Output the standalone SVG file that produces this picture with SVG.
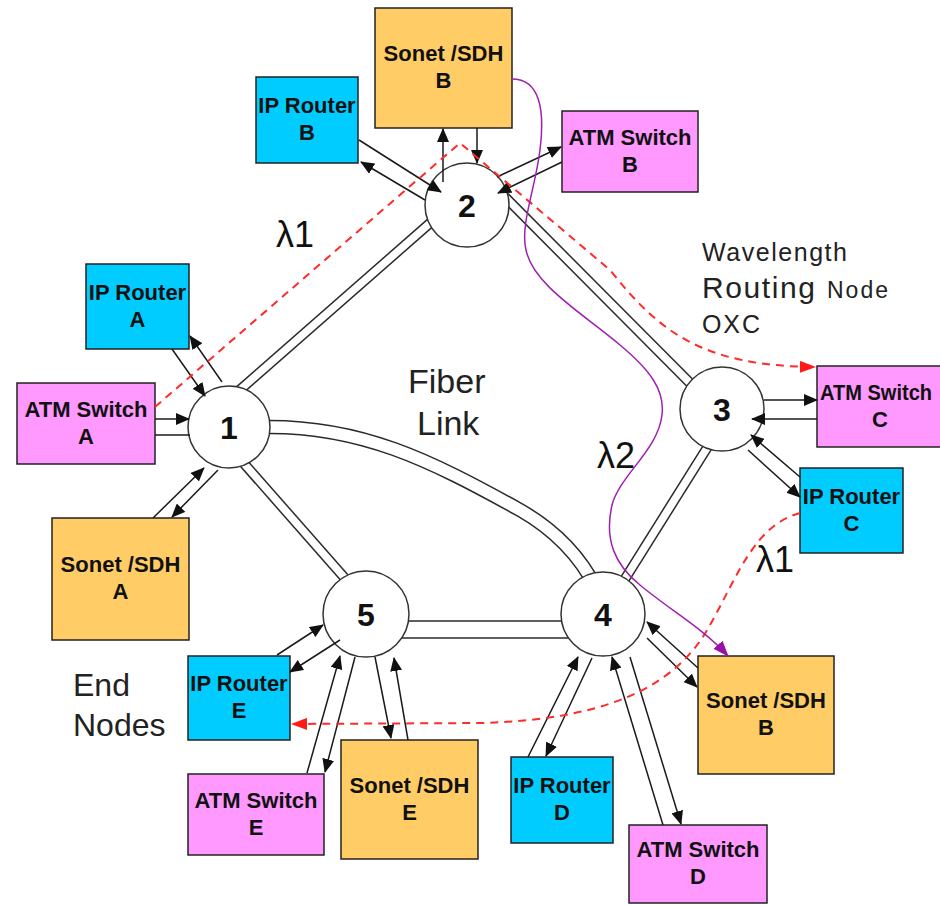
<svg xmlns="http://www.w3.org/2000/svg" width="940" height="905" viewBox="0 0 940 905">
  <defs>
    <style>
      .box { stroke: #222; stroke-width: 1.5; }
      .ip { fill: #00CCFF; }
      .atm { fill: #FF99FF; }
      .sdh { fill: #FFCC66; }
      .lbl { font-family: "Liberation Sans", Arial, sans-serif; font-weight: bold; font-size: 22px; text-anchor: middle; fill: #111; }
      .hub { fill: #fff; stroke: #333; stroke-width: 1.5; }
      .num { font-family: "Liberation Sans", Arial, sans-serif; font-weight: bold; font-size: 32px; text-anchor: middle; fill: #111; }
      .fo { stroke: #2a2a2a; fill: none; }
      .fi { stroke: #fff; fill: none; }
      .link { stroke: #1a1a1a; stroke-width: 1.5; fill: none; marker-end: url(#ah); }
      .plain { stroke: #1a1a1a; stroke-width: 1.5; fill: none; }
      .lam1 { stroke: #ff2a2a; stroke-width: 2; stroke-dasharray: 8 6; fill: none; marker-end: url(#ahRed); }
      .lam2 { stroke: #a020b0; stroke-width: 1.5; fill: none; marker-end: url(#ahPurple); }
      .note { font-family: "Liberation Sans", Arial, sans-serif; fill: #222; }
      .lam { font-family: "Liberation Sans", Arial, sans-serif; font-size: 36px; fill: #111; }
    </style>
    <marker id="ah" markerUnits="userSpaceOnUse" markerWidth="14" markerHeight="12" refX="13" refY="6" orient="auto">
      <path d="M0,0 L14,6 L0,12 z" fill="#111"/>
    </marker>
    <marker id="ahRed" markerUnits="userSpaceOnUse" markerWidth="16" markerHeight="12" refX="15" refY="6" orient="auto">
      <path d="M0,0 L16,6 L0,12 z" fill="#ff1a1a"/>
    </marker>
    <marker id="ahPurple" markerUnits="userSpaceOnUse" markerWidth="16" markerHeight="12" refX="15" refY="6" orient="auto">
      <path d="M0,0 L16,6 L0,12 z" fill="#9a0fa8"/>
    </marker>
  </defs>

  <rect x="0" y="0" width="940" height="905" fill="#fff"/>

  <!-- fiber links: dark wide stroke with a white core gives the double line -->
  <g id="fibers">
    <g class="fo" stroke-width="10.5">
      <line x1="234" y1="395" x2="437" y2="217"/>
      <line x1="500" y1="192" x2="695" y2="388"/>
      <line x1="240" y1="459" x2="350" y2="584"/>
      <line x1="618" y1="590" x2="712" y2="440"/>
    </g>
    <g class="fi" stroke-width="7.5">
      <line x1="234" y1="395" x2="437" y2="217"/>
      <line x1="500" y1="192" x2="695" y2="388"/>
      <line x1="240" y1="459" x2="350" y2="584"/>
      <line x1="618" y1="590" x2="712" y2="440"/>
    </g>
    <line class="fo" stroke-width="18.5" x1="395" y1="629.5" x2="575" y2="629.5"/>
    <line class="fi" stroke-width="15.5" x1="395" y1="629.5" x2="575" y2="629.5"/>
    <path class="fo" stroke-width="14.5" d="M262,427 C360,425 430,460 520,510 C560,533 582,560 596,588"/>
    <path class="fi" stroke-width="11.5" d="M262,427 C360,425 430,460 520,510 C560,533 582,560 596,588"/>
  </g>

  <!-- wavelength routing nodes -->
  <g id="node-1"><circle class="hub" cx="229" cy="427" r="41"/><text class="num" x="229" y="439">1</text></g>
  <g id="node-2"><circle class="hub" cx="467" cy="205" r="42"/><text class="num" x="467" y="217">2</text></g>
  <g id="node-3"><circle class="hub" cx="722" cy="409" r="42"/><text class="num" x="722" y="421">3</text></g>
  <g id="node-4"><circle class="hub" cx="603" cy="614" r="42"/><text class="num" x="603" y="626">4</text></g>
  <g id="node-5"><circle class="hub" cx="366" cy="614" r="43"/><text class="num" x="366" y="626">5</text></g>

  <!-- end nodes -->
  <g id="ip-router-a"><rect class="box ip" x="86" y="264" width="103" height="85"/><text class="lbl" x="137.5" y="299.5">IP Router</text><text class="lbl" x="137.5" y="326.5">A</text></g>
  <g id="atm-switch-a"><rect class="box atm" x="17" y="383" width="138" height="81"/><text class="lbl" x="86" y="416.5">ATM Switch</text><text class="lbl" x="86" y="443.5">A</text></g>
  <g id="sonet-sdh-a"><rect class="box sdh" x="52" y="518" width="137" height="122"/><text class="lbl" x="120.5" y="572">Sonet /SDH</text><text class="lbl" x="120.5" y="599">A</text></g>
  <g id="ip-router-b"><rect class="box ip" x="256" y="77" width="102" height="86"/><text class="lbl" x="307" y="113">IP Router</text><text class="lbl" x="307" y="140">B</text></g>
  <g id="sonet-sdh-b-top"><rect class="box sdh" x="375" y="8" width="137" height="120"/><text class="lbl" x="443.5" y="61">Sonet /SDH</text><text class="lbl" x="443.5" y="88">B</text></g>
  <g id="atm-switch-b"><rect class="box atm" x="562" y="111" width="136" height="81"/><text class="lbl" x="630" y="144.5">ATM Switch</text><text class="lbl" x="630" y="171.5">B</text></g>
  <g id="atm-switch-c"><rect class="box atm" x="817" y="366" width="124" height="81"/><text class="lbl" x="876" y="399.5" textLength="112" lengthAdjust="spacingAndGlyphs">ATM Switch</text><text class="lbl" x="880" y="426.5">C</text></g>
  <g id="ip-router-c"><rect class="box ip" x="800" y="468" width="103" height="85"/><text class="lbl" x="851.5" y="503.5">IP Router</text><text class="lbl" x="851.5" y="530.5">C</text></g>
  <g id="sonet-sdh-b-right"><rect class="box sdh" x="698" y="656" width="136" height="118"/><text class="lbl" x="766" y="708">Sonet /SDH</text><text class="lbl" x="766" y="735">B</text></g>
  <g id="ip-router-d"><rect class="box ip" x="511" y="757" width="102" height="86"/><text class="lbl" x="562" y="793">IP Router</text><text class="lbl" x="562" y="820">D</text></g>
  <g id="atm-switch-d"><rect class="box atm" x="629" y="825" width="138" height="78"/><text class="lbl" x="698" y="857">ATM Switch</text><text class="lbl" x="698" y="884">D</text></g>
  <g id="ip-router-e"><rect class="box ip" x="188" y="656" width="102" height="84"/><text class="lbl" x="239" y="691">IP Router</text><text class="lbl" x="239" y="718">E</text></g>
  <g id="atm-switch-e"><rect class="box atm" x="188" y="774" width="136" height="81"/><text class="lbl" x="256" y="807.5">ATM Switch</text><text class="lbl" x="256" y="834.5">E</text></g>
  <g id="sonet-sdh-e"><rect class="box sdh" x="341" y="740" width="137" height="119"/><text class="lbl" x="409.5" y="792.5">Sonet /SDH</text><text class="lbl" x="409.5" y="819.5">E</text></g>

  <!-- access links between end nodes and routing nodes -->
  <g id="connectors">
    <!-- node 2 -->
    <line class="link" x1="359" y1="140" x2="441" y2="192"/>
    <line class="link" x1="425" y1="200" x2="361" y2="162"/>
    <line class="link" x1="443" y1="182" x2="443" y2="129"/>
    <line class="link" x1="477" y1="128" x2="477" y2="163"/>
    <line class="link" x1="497" y1="177" x2="561" y2="147"/>
    <line class="link" x1="562" y1="162" x2="498" y2="193"/>
    <!-- node 1 -->
    <line class="link" x1="172" y1="349" x2="205" y2="396"/>
    <line class="link" x1="222" y1="382" x2="190" y2="336"/>
    <line class="link" x1="155" y1="419" x2="189" y2="419"/>
    <line class="plain" x1="155" y1="435" x2="190" y2="435"/>
    <line class="link" x1="153" y1="518" x2="204" y2="468"/>
    <line class="link" x1="218" y1="470" x2="172" y2="517"/>
    <!-- node 3 -->
    <line class="link" x1="764" y1="400" x2="817" y2="400"/>
    <line class="link" x1="817" y1="419" x2="752" y2="419"/>
    <line class="link" x1="748" y1="450" x2="800" y2="497"/>
    <line class="link" x1="800" y1="477" x2="751" y2="435"/>
    <!-- node 5 -->
    <line class="link" x1="277" y1="655" x2="323" y2="625"/>
    <line class="link" x1="340" y1="640" x2="290" y2="672"/>
    <line class="link" x1="307" y1="773" x2="340" y2="656"/>
    <line class="link" x1="355" y1="657" x2="325" y2="772"/>
    <line class="link" x1="375" y1="657" x2="391" y2="738"/>
    <line class="link" x1="408" y1="740" x2="394" y2="658"/>
    <!-- node 4 -->
    <line class="link" x1="698" y1="668" x2="647" y2="622"/>
    <line class="link" x1="647" y1="638" x2="697" y2="687"/>
    <line class="link" x1="528" y1="757" x2="578" y2="657"/>
    <line class="link" x1="592" y1="658" x2="546" y2="756"/>
    <line class="link" x1="663" y1="825" x2="612" y2="657"/>
    <line class="link" x1="630" y1="657" x2="681" y2="824"/>

    <!-- lightpaths -->
    <path class="lam1" d="M155,407 L460,143 L610,270 C658,330 700,366 815,367"/>
    <path class="lam1" d="M800,513 C755,525 738,575 710,625 C675,690 600,720 480,723 L292,724"/>
    <path class="lam2" d="M512,79 C540,79 545,110 540,150 C535,190 520,225 526,250 C533,285 585,315 620,345 C650,370 665,390 662,415 C658,450 620,475 612,505 C604,540 615,565 640,585 C670,610 705,630 728,656"/>
  </g>

  <!-- annotations -->
  <g id="labels">
    <text class="lam" x="276" y="247">λ1</text>
    <text class="lam" x="597" y="468">λ2</text>
    <text class="lam" x="756" y="572">λ1</text>
    <text class="note" x="702" y="261" font-size="25" textLength="145" lengthAdjust="spacing">Wavelength</text>
    <text class="note" x="702" y="298" font-size="30" textLength="113" lengthAdjust="spacing">Routing</text>
    <text class="note" x="827" y="298" font-size="23" textLength="61" lengthAdjust="spacing">Node</text>
    <text class="note" x="702" y="333" font-size="25" textLength="58" lengthAdjust="spacing">OXC</text>
    <text class="note" x="408" y="393" font-size="34">Fiber</text>
    <text class="note" x="417" y="435" font-size="34">Link</text>
    <text class="note" x="73" y="696" font-size="32">End</text>
    <text class="note" x="73" y="736" font-size="32">Nodes</text>
  </g>
</svg>
